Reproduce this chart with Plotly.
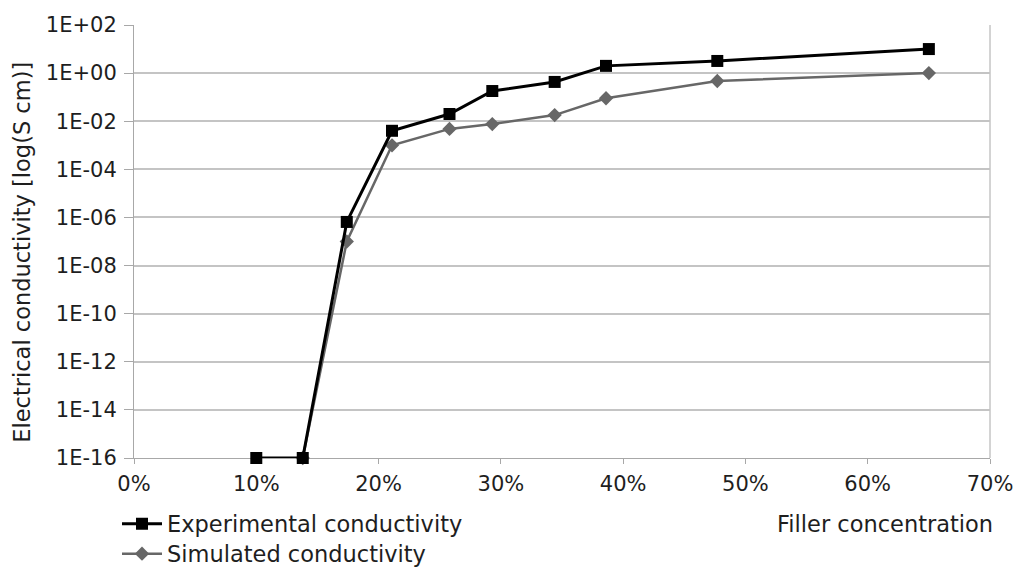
import plotly.graph_objects as go

# Data (filler concentration as fraction, conductivity in S/cm)
exp_x = [0.100, 0.138, 0.174, 0.211, 0.258, 0.293, 0.344, 0.386, 0.477, 0.650]
exp_y = [1e-16, 1e-16, 6.5e-7, 4.0e-3, 2.0e-2, 1.8e-1, 4.3e-1, 2.0, 3.2, 10.0]

sim_x = [0.138, 0.174, 0.211, 0.258, 0.293, 0.344, 0.386, 0.477, 0.650]
sim_y = [1e-16, 1.0e-7, 1.0e-3, 4.8e-3, 7.6e-3, 1.8e-2, 9.0e-2, 4.7e-1, 1.0]

x_ticks = [0, 0.1, 0.2, 0.3, 0.4, 0.5, 0.6, 0.7]
x_labels = ["0%", "10%", "20%", "30%", "40%", "50%", "60%", "70%"]
y_ticks = [1e2, 1e0, 1e-2, 1e-4, 1e-6, 1e-8, 1e-10, 1e-12, 1e-14, 1e-16]
y_labels = ["1E+02", "1E+00", "1E-02", "1E-04", "1E-06", "1E-08",
            "1E-10", "1E-12", "1E-14", "1E-16"]

FONT = "DejaVu Sans, Verdana, sans-serif"
TXT = "#1e1e1e"
FS = 21
FS_BIG = 22.5

fig = go.Figure()
fig.add_trace(go.Scatter(
    x=sim_x, y=sim_y, mode="lines+markers", name="Simulated conductivity",
    line=dict(color="#676767", width=2.5),
    marker=dict(symbol="diamond", size=11, color="#676767"),
    legend="legend2", cliponaxis=False,
))
fig.add_trace(go.Scatter(
    x=exp_x, y=exp_y, mode="lines+markers", name="Experimental conductivity",
    line=dict(color="#000000", width=3),
    marker=dict(symbol="square", size=12, color="#000000"),
    legend="legend", cliponaxis=False,
))

leg_common = dict(xanchor="left", yanchor="middle", orientation="v",
                  xref="container", yref="container",
                  font=dict(family=FONT, size=FS_BIG, color=TXT),
                  itemwidth=40, bgcolor="rgba(0,0,0,0)")

fig.update_layout(
    width=1017, height=571,
    margin=dict(l=134, r=27, t=25, b=113, autoexpand=False),
    paper_bgcolor="white", plot_bgcolor="white",
    font=dict(family=FONT, size=FS, color=TXT),
    showlegend=True,
    legend=dict(x=117 / 1017, y=1 - 524 / 571, **leg_common),
    legend2=dict(x=117 / 1017, y=1 - 554 / 571, **leg_common),
    xaxis=dict(
        range=[0, 0.7], tickvals=x_ticks, ticktext=x_labels,
        showgrid=False, zeroline=False, automargin=False, layer="below traces",
        showline=True, linecolor="#a8a8a8", linewidth=1, mirror=False,
        ticks="outside", ticklen=5, tickcolor="#a8a8a8",
        tickfont=dict(size=FS, color=TXT), ticklabelstandoff=2,
    ),
    yaxis=dict(
        type="log", range=[-16, 2], tickvals=y_ticks, ticktext=y_labels,
        showgrid=True, gridcolor="#c4c4c4", gridwidth=1.5, zeroline=False,
        automargin=False, layer="below traces",
        showline=True, linecolor="#a8a8a8", linewidth=1,
        ticks="outside", ticklen=9, tickcolor="#a8a8a8",
        tickfont=dict(size=FS, color=TXT), ticklabelstandoff=3,
    ),
    annotations=[
        dict(text="Filler concentration", xref="paper", yref="paper",
             x=1.006, y=-0.152, xanchor="right", yanchor="middle",
             showarrow=False, font=dict(size=FS_BIG, color=TXT)),
        dict(text="Electrical conductivity [log(S cm)]", xref="paper", yref="paper",
             x=-0.131, y=0.476, xanchor="center", yanchor="middle", textangle=-90,
             showarrow=False, font=dict(size=FS_BIG, color=TXT)),
    ],
)
# right border line
fig.add_shape(type="line", xref="paper", yref="paper", x0=1, x1=1, y0=0, y1=1,
              layer="below", line=dict(color="#a8a8a8", width=1))

fig.write_html("out.html")
